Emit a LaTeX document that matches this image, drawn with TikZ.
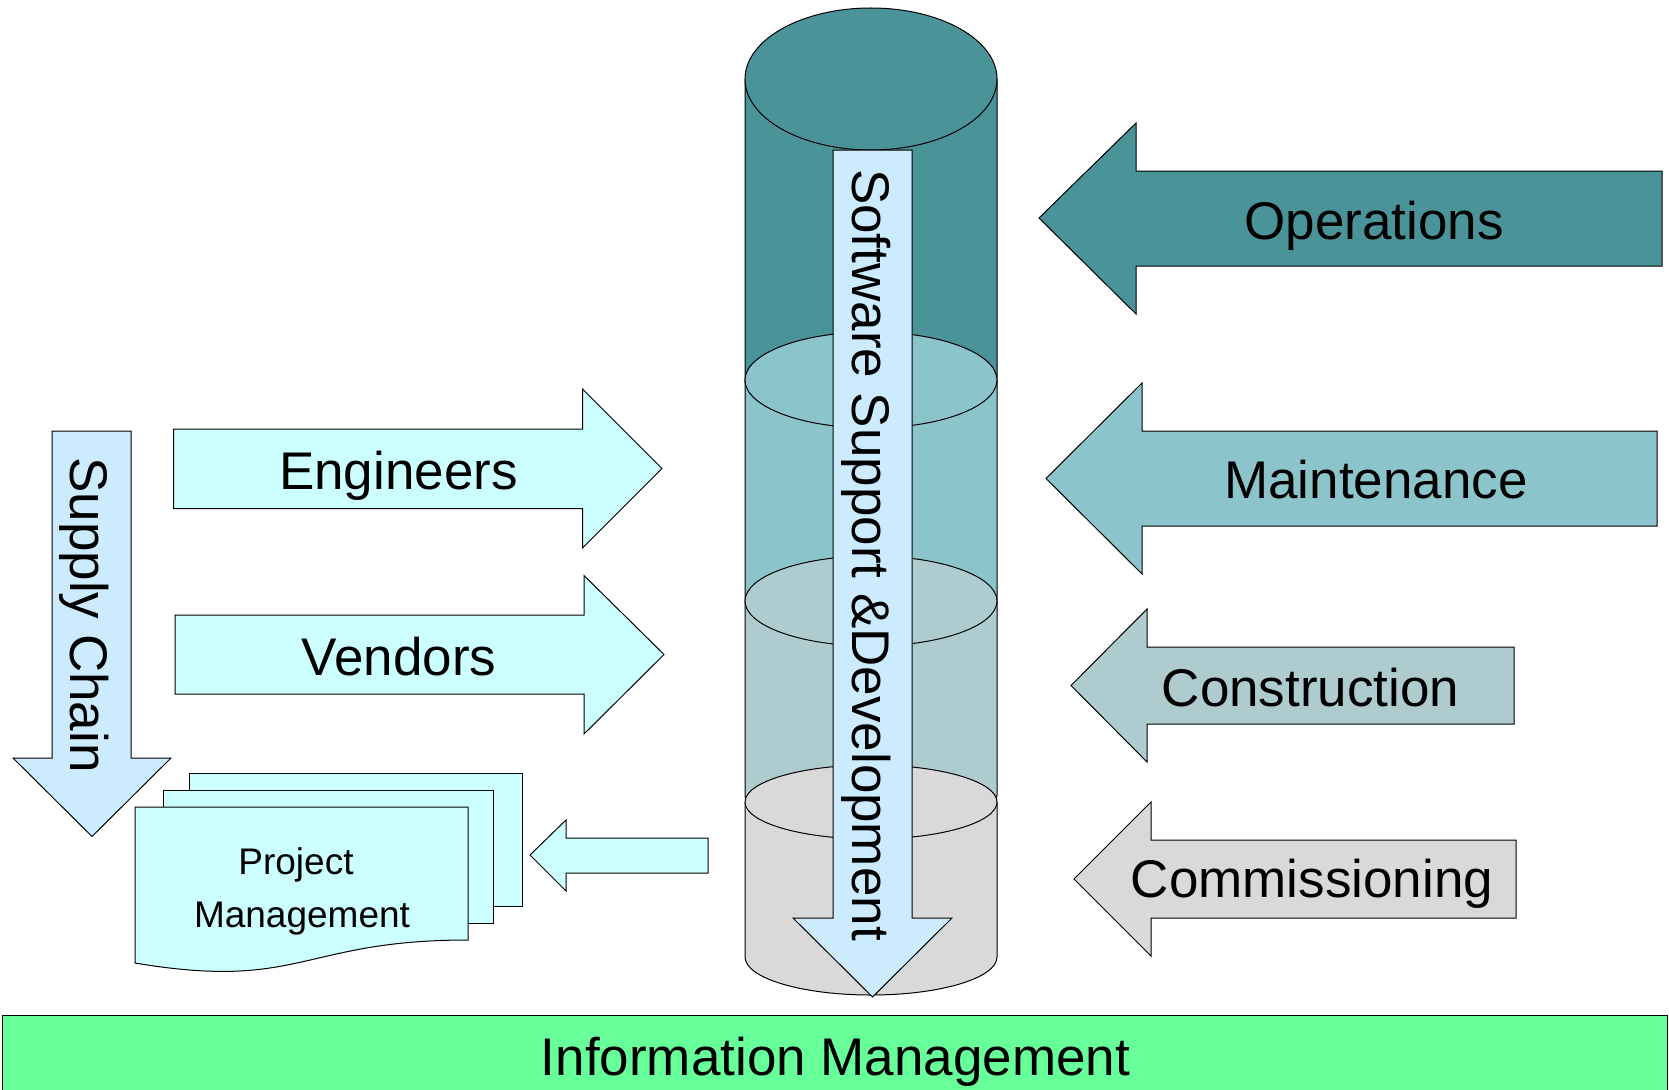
\documentclass[tikz,border=0pt]{standalone}
\usepackage{fontspec}
\setmainfont{Liberation Sans}
\definecolor{tealA}{HTML}{4A9399}
\definecolor{tealB}{HTML}{8CC4CB}
\definecolor{tealC}{HTML}{AECCCF}
\definecolor{greyD}{HTML}{D9D9D9}
\definecolor{arrowblue}{HTML}{CCEBFF}
\definecolor{paleCyan}{HTML}{CCFFFF}
\definecolor{mintgreen}{HTML}{66FF99}
% one drum of the stacked cylinder:
% #1 fill, #2 centre x, #3 x radius, #4 centre y of top ellipse,
% #5 y radius of top, #6 y where the sides end, #7 y radius of bottom
\newcommand\cylpart[7]{%
  \path[outline, fill=#1] ({#2-#3},#4) -- ({#2-#3},#6)
     arc[start angle=180, end angle=360, x radius=#3pt, y radius=#7pt] -- ({#2+#3},#4);
  \path[outline, fill=#1] (#2,#4) ellipse[x radius=#3pt, y radius=#5pt];
}
\begin{document}
\begin{tikzpicture}[x=1pt, y=-1pt,
  outline/.style={draw=black, line width=1pt, line join=miter},
  lbl/.style={inner sep=0pt, anchor=base, font=\fontsize{53}{60}\selectfont},
  smalllbl/.style={inner sep=0pt, anchor=base, font=\fontsize{37}{44}\selectfont}]
\useasboundingbox (0,0) rectangle (1669,1089);
\fill[white] (0,0) rectangle (1669,1089);

% stacked cylinder, top to bottom
\cylpart{tealA}{871}{126}{79}{71}{378}{71}
\cylpart{tealB}{871}{126}{380}{48}{600}{48}
\cylpart{tealC}{871}{126}{601}{45}{795}{45}
\cylpart{greyD}{871}{126}{802}{37}{957}{38}

% downward arrow through the cylinder
\path[outline, fill=arrowblue] (833,150) -- (912,150) -- (912,918) -- (952,918)
   -- (872.5,997) -- (793,918) -- (833,918) -- cycle;
\node[lbl, rotate=-90] (softdev) at (852,555) {Software Support \&Development};

% arrows from the right
\path[outline, fill=tealA] (1039,218) -- (1136,123) -- (1136,171) -- (1662,171)
   -- (1662,266) -- (1136,266) -- (1136,314) -- cycle;
\node[lbl] (ops) at (1374,239) {Operations};

\path[outline, fill=tealB] (1046,478.5) -- (1142,383) -- (1142,431) -- (1657,431)
   -- (1657,526) -- (1142,526) -- (1142,574) -- cycle;
\node[lbl] (maint) at (1376,498) {Maintenance};

\path[outline, fill=tealC] (1071,685.5) -- (1147,609) -- (1147,647) -- (1514,647)
   -- (1514,724) -- (1147,724) -- (1147,762) -- cycle;
\node[lbl] (constr) at (1310.5,706) {Construction};

\path[outline, fill=greyD] (1074,879) -- (1151,802) -- (1151,840) -- (1516,840)
   -- (1516,918) -- (1151,918) -- (1151,956) -- cycle;
\node[lbl] (comm) at (1312,897.5) {Commissioning};

% arrows from the left
\path[outline, fill=paleCyan] (173.5,429) -- (582.5,429) -- (582.5,389) -- (662,468.5)
   -- (582.5,548) -- (582.5,508.5) -- (173.5,508.5) -- cycle;
\node[lbl] (eng) at (398.5,489) {Engineers};

\path[outline, fill=paleCyan] (175,615) -- (584,615) -- (584,575.5) -- (664,654.5)
   -- (584,734) -- (584,694) -- (175,694) -- cycle;
\node[lbl] (vend) at (399,675) {Vendors};

% supply chain arrow
\path[outline, fill=arrowblue] (52,431) -- (131,431) -- (131,758) -- (171,758)
   -- (92,836.5) -- (13,758) -- (52,758) -- cycle;
\node[lbl, rotate=-90] (supply) at (70,615) {Supply Chain};

% stack of documents
\path[outline, fill=paleCyan] (189,773) rectangle (522,906);
\path[outline, fill=paleCyan] (163,790) rectangle (493,923);
\path[outline, fill=paleCyan] (135,807) -- (468,807) -- (468,940)
   .. controls (301.5,940) and (301.5,991) .. (135,963) -- cycle;
\node[smalllbl] (pmtop) at (296,874) {Project};
\node[smalllbl] (pmbot) at (302,927) {Management};

% small arrow towards the documents
\path[outline, fill=paleCyan] (530,855) -- (566,820) -- (566,838) -- (708,838)
   -- (708,873) -- (566,873) -- (566,891) -- cycle;

% base bar
\path[outline, fill=mintgreen] (2,1015.5) rectangle (1667,1096);
\node[lbl] (info) at (835.5,1075) {Information Management};
\end{tikzpicture}
\end{document}
